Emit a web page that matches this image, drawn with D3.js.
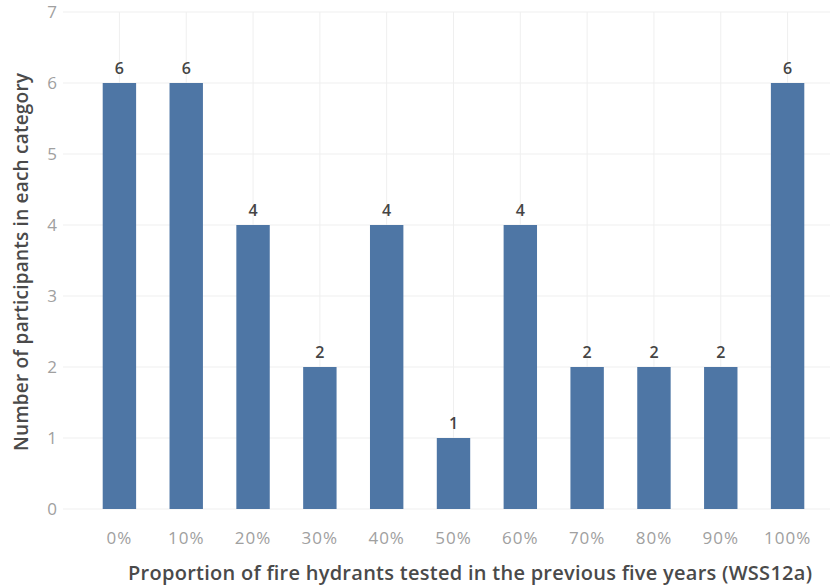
<!DOCTYPE html>
<html><head><meta charset="utf-8">
<script src="https://cdn.jsdelivr.net/npm/d3@7"></script>
<style>body{margin:0;background:#fff}svg{display:block}text{font-family:"Open Sans","Noto Sans",sans-serif}</style>
</head><body><svg id="c" width="834" height="585"></svg>
<script>
const categories = ["0%","10%","20%","30%","40%","50%","60%","70%","80%","90%","100%"];
const values = [6,6,4,2,4,1,4,2,2,2,6];
const yTicks = [0,1,2,3,4,5,6,7];
const xTitle = "Proportion of fire hydrants tested in the previous five years (WSS12a)";
const yTitle = "Number of participants in each category";

const svg = d3.select("#c");
const plotL = 63, plotR = 830;
const x = d3.scaleBand().domain(categories).range([86, 821]).paddingInner(0.5).paddingOuter(0.25);
const y = d3.scaleLinear().domain([0,7]).range([509, 12]);

// horizontal grid
svg.append("g").selectAll("line").data(yTicks).join("line")
  .attr("x1", plotL).attr("x2", plotR)
  .attr("y1", d=>y(d)).attr("y2", d=>y(d))
  .attr("stroke", "#efefef").attr("stroke-width", 1);
// vertical grid at category centers
svg.append("g").selectAll("line").data(categories).join("line")
  .attr("x1", d=>x(d)+x.bandwidth()/2).attr("x2", d=>x(d)+x.bandwidth()/2)
  .attr("y1", y(7)).attr("y2", y(0))
  .attr("stroke", "#efefef").attr("stroke-width", 1);

// bars
svg.append("g").selectAll("rect").data(values).join("rect")
  .attr("x", (d,i)=>x(categories[i]))
  .attr("width", x.bandwidth())
  .attr("y", d=>y(d)).attr("height", d=>y(0)-y(d))
  .attr("fill", "#4e76a5");

// value labels
svg.append("g").selectAll("text").data(values).join("text")
  .attr("x", (d,i)=>x(categories[i])+x.bandwidth()/2)
  .attr("y", d=>y(d)-9)
  .attr("text-anchor","middle")
  .attr("font-size", 16).attr("font-weight", 600)
  .attr("fill", "#444").text(d=>d);

// y axis
const yAxis = d3.axisLeft(y).tickValues(yTicks).tickFormat(d3.format("d")).tickSize(0).tickPadding(0);
const gy = svg.append("g").attr("transform","translate(56,0)").call(yAxis);
gy.select(".domain").remove();
gy.selectAll("text").attr("font-size",17).attr("fill","#a0a0a0").attr("font-family","'Open Sans',sans-serif").attr("text-anchor","middle").attr("x",-4);

// x axis
const xAxis = d3.axisBottom(x).tickSize(0).tickPadding(0);
const gx = svg.append("g").attr("transform","translate(0,544)").call(xAxis);
gx.select(".domain").remove();
gx.selectAll("text").attr("dy",null).attr("font-size",17).attr("letter-spacing",1).attr("fill","#a0a0a0").attr("font-family","'Open Sans',sans-serif");

// titles
svg.append("text").attr("x", 470).attr("y", 580).attr("text-anchor","middle")
  .attr("font-size",20).attr("font-weight",600).attr("fill","#4a4a4a")
  .attr("textLength",684).attr("lengthAdjust","spacing").text(xTitle);
svg.append("text").attr("transform","translate(28,262) rotate(-90)").attr("text-anchor","middle")
  .attr("font-size",19).attr("font-weight",600).attr("fill","#4a4a4a")
  .attr("textLength",378).attr("lengthAdjust","spacing").text(yTitle);
</script></body></html>
